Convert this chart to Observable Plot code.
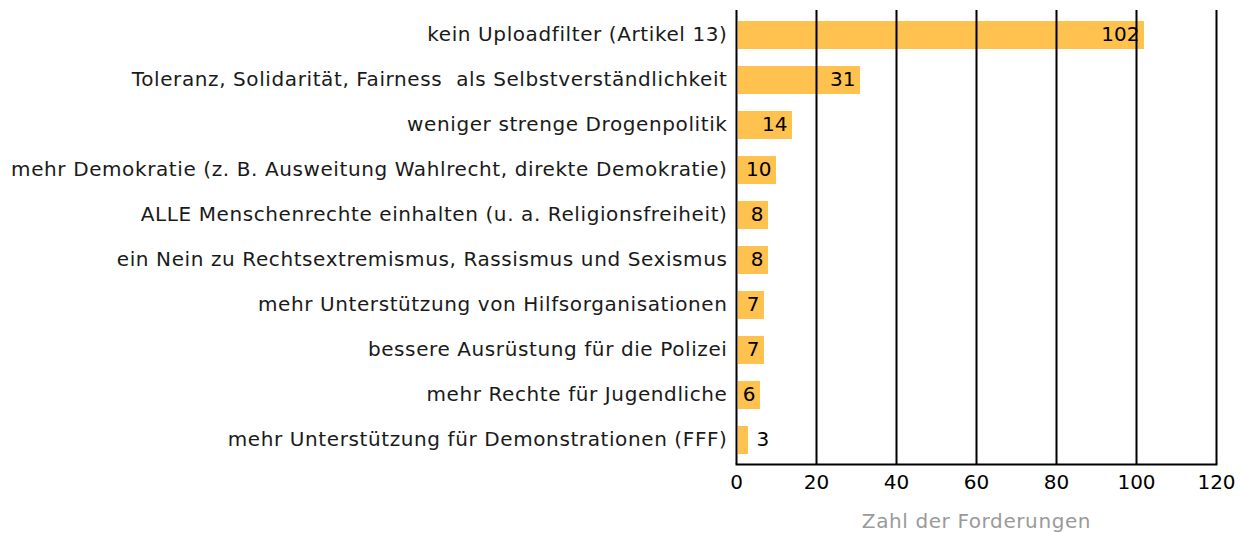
<!DOCTYPE html>
<html>
<head>
<meta charset="utf-8">
<script src="https://cdn.jsdelivr.net/npm/d3@7"></script>
<script src="https://cdn.jsdelivr.net/npm/@observablehq/plot@0.6"></script>
<style>
  html, body { margin: 0; padding: 0; background: #fff; }
  #chart { width: 1242px; height: 533px; }
  .ylab text { letter-spacing: 0.6px; }
  .xlabel text { letter-spacing: 0.6px; }
</style>
</head>
<body>
<div id="chart"></div>
<script>
const categories = [
  "kein Uploadfilter (Artikel 13)",
  "Toleranz, Solidarität, Fairness  als Selbstverständlichkeit",
  "weniger strenge Drogenpolitik",
  "mehr Demokratie (z. B. Ausweitung Wahlrecht, direkte Demokratie)",
  "ALLE Menschenrechte einhalten (u. a. Religionsfreiheit)",
  "ein Nein zu Rechtsextremismus, Rassismus und Sexismus",
  "mehr Unterstützung von Hilfsorganisationen",
  "bessere Ausrüstung für die Polizei",
  "mehr Rechte für Jugendliche",
  "mehr Unterstützung für Demonstrationen (FFF)"
];
const values = [102, 31, 14, 10, 8, 8, 7, 7, 6, 3];
const xTicks = [0, 20, 40, 60, 80, 100, 120];
const xLabel = "Zahl der Forderungen";

const data = categories.map((c, i) => ({category: c, value: values[i]}));

const chart = Plot.plot({
  width: 1242,
  height: 533,
  marginLeft: 736,
  marginRight: 26,
  marginTop: 10,
  marginBottom: 69,
  style: {fontFamily: "DejaVu Sans", fontSize: "20px", color: "#1a1a1a", background: "#fff"},
  x: {domain: [0, 120], ticks: xTicks, label: null},
  y: {domain: categories, paddingInner: 0.385, paddingOuter: 0.176, label: null},
  marks: [
    Plot.barX(data, {x: "value", y: "category", fill: "#FFC24F", insetLeft: 2}),
    Plot.ruleX(xTicks, {stroke: "#000", strokeWidth: 2}),
    Plot.frame({anchor: "bottom", stroke: "#000", strokeWidth: 2}),
    Plot.text(data, {filter: d => d.value >= 5, x: "value", y: "category", text: d => String(d.value),
      textAnchor: "end", dx: -5, dy: -1, fill: "#000", fontSize: 20}),
    Plot.text(data, {filter: d => d.value < 5, x: "value", y: "category", text: d => String(d.value),
      textAnchor: "start", dx: 8, dy: -1, fill: "#000", fontSize: 20}),
    Plot.axisX({ticks: xTicks, tickSize: 0, tickPadding: 10, fontSize: 20, fill: "#000", label: null}),
    Plot.axisY({tickSize: 0, tickPadding: 9, fontSize: 20, fill: "#1a1a1a", label: null, className: "ylab", dy: -1}),
    Plot.text([xLabel], {frameAnchor: "bottom", dy: 63, fill: "#9a9a9a", fontSize: 20, className: "xlabel"})
  ]
});
document.getElementById("chart").appendChild(chart);
</script>
</body>
</html>
